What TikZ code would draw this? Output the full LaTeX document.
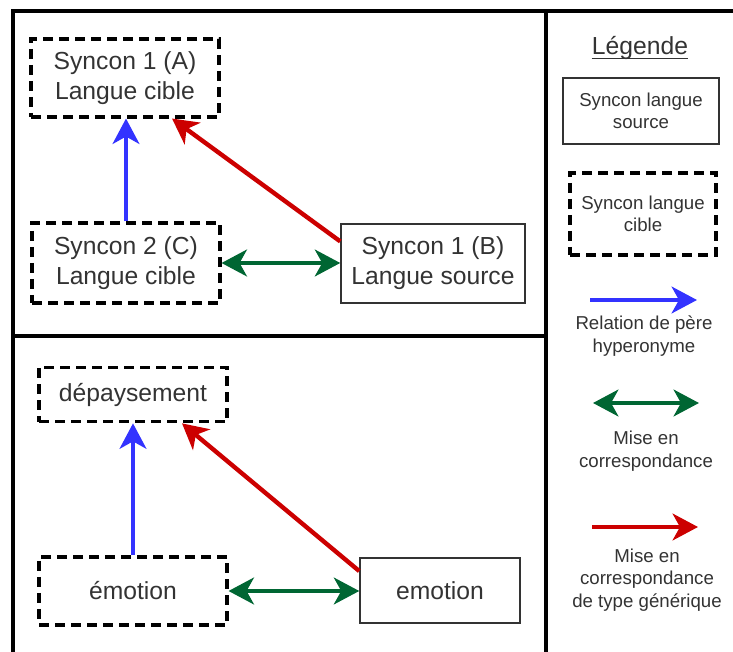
\documentclass[tikz,border=0pt]{standalone}
\usepackage{fontspec}
\setmainfont{Liberation Sans}
\usetikzlibrary{arrows.meta,calc}
\definecolor{txt}{HTML}{333333}
\definecolor{ablue}{HTML}{3333FF}
\definecolor{agreen}{HTML}{006633}
\definecolor{ared}{HTML}{CC0000}
\tikzset{
  bigtext/.style={font=\fontsize{18.5}{22.5}\selectfont, text=txt, align=center},
  smalltext/.style={font=\fontsize{14}{16.8}\selectfont, text=txt, align=center},
  srcbox/.style={draw=black!80, line width=1.1pt, rectangle, inner sep=0pt},
  tgtbox/.style={draw=black, line width=2.3pt, dash pattern=on 7.5pt off 4.5pt, rectangle, inner sep=0pt},
  frame/.style={draw=black, line width=2.3pt},
  rel/.style={line width=3.3pt, -{Stealth[length=19pt, width=20pt, inset=5.5pt]}},
  relboth/.style={line width=3.3pt, {Stealth[length=19pt, width=20pt, inset=5.5pt]}-{Stealth[length=19pt, width=20pt, inset=5.5pt]}},
}
\begin{document}
\begin{tikzpicture}[x=0.75pt,y=-0.75pt]
\useasboundingbox (0,0) rectangle (733,652);
% frame
\draw[frame] (13,652) -- (13,11) -- (733,11);
\draw[frame] (546,11) -- (546,652);
\draw[frame] (13,336) -- (546,336);

% top panel
\node[tgtbox, bigtext, minimum width=141pt, minimum height=58.5pt] (A) at (125,78) {Syncon 1 (A)\\Langue cible};
\node[tgtbox, bigtext, minimum width=141pt, minimum height=60pt] (C) at (126,263) {Syncon 2 (C)\\Langue cible};
\node[srcbox, bigtext, minimum width=138pt, minimum height=59pt] (B) at (433,263.5) {Syncon 1 (B)\\Langue source};

\draw[rel, ablue] (C.north) -- (C.north |- A.south);
\draw[rel, ared] ($(B.north west)+(0,18)$) -- ($(A.south)+(47,0)$);
\draw[relboth, agreen] (C.east) -- (C.east -| B.west);

% bottom panel
\node[tgtbox, bigtext, minimum width=141pt, minimum height=41pt] (D) at (133,394.5) {dépaysement};
\node[tgtbox, bigtext, minimum width=141pt, minimum height=51pt] (E) at (133,591) {émotion};
\node[srcbox, bigtext, minimum width=120pt, minimum height=49pt] (F) at (440,590.5) {emotion};

\draw[rel, ablue] (E.north) -- (E.north |- D.south);
\draw[rel, ared] ($(F.north west)+(0,14)$) -- ($(D.south)+(49,0)$);
\draw[relboth, agreen] (E.east) -- (E.east -| F.west);

% legend
\node[bigtext, inner sep=0pt] (leg) at (640,48) {Légende};
\draw[txt, line width=0.8pt] ($(leg.base west)+(0,4)$) -- ($(leg.base east)+(0,4)$);
\node[srcbox, smalltext, minimum width=117pt, minimum height=49.5pt] (ls) at (641,111) {Syncon langue\\source};
\node[tgtbox, smalltext, minimum width=109.5pt, minimum height=61.5pt] (lt) at (643,214) {Syncon langue\\cible};

\coordinate (b1) at (590,300);
\coordinate (b2) at (697,300);
\draw[rel, ablue] (b1) -- (b2);
\node[smalltext] (lb) at (644,336) {Relation de père\\hyperonyme};

\coordinate (g1) at (593,403);
\coordinate (g2) at (699,403);
\draw[relboth, agreen] (g1) -- (g2);
\node[smalltext] (lg) at (646,451) {Mise en\\correspondance};

\coordinate (r1) at (592,527);
\coordinate (r2) at (698,527);
\draw[rel, ared] (r1) -- (r2);
\node[smalltext] (lr) at (647,580) {Mise en\\correspondance\\de type générique};
\end{tikzpicture}
\end{document}
